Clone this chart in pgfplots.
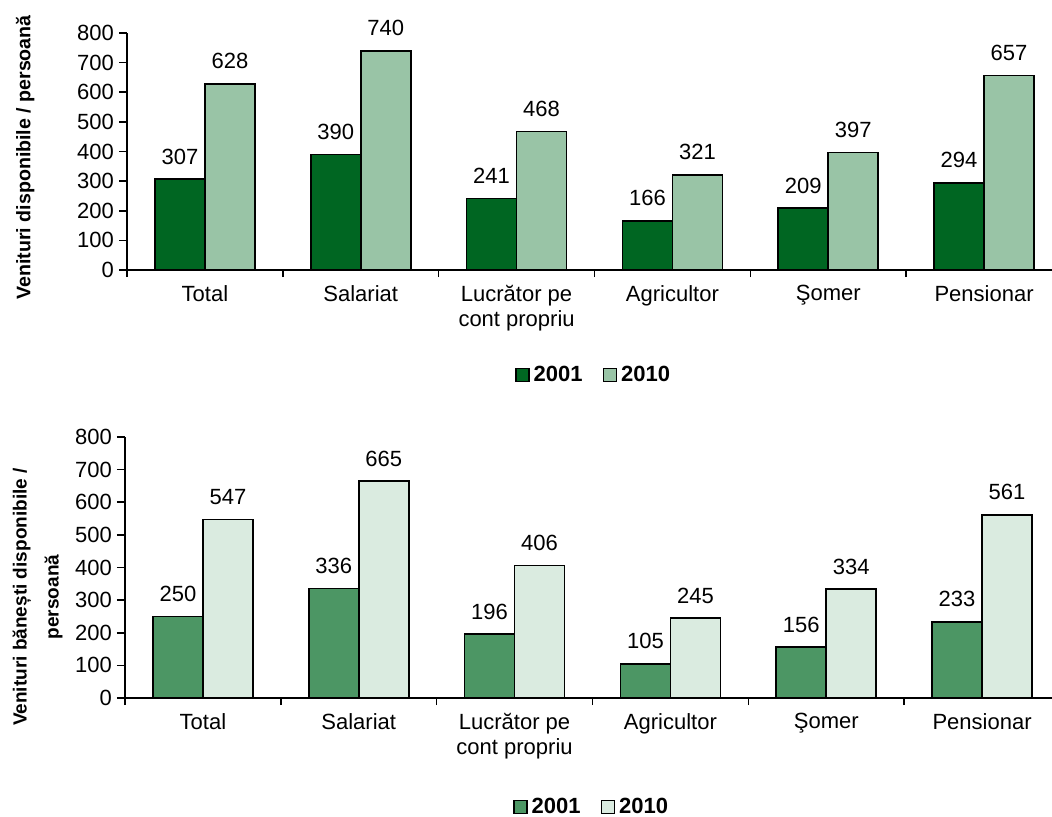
\documentclass[border=0pt]{standalone}
\usepackage{pgfplots}
\pgfplotsset{compat=1.18}
\usepackage{fontspec}
\setmainfont{Liberation Sans}

\definecolor{darkg}{RGB}{0,102,34}
\definecolor{lightg}{RGB}{153,196,166}
\definecolor{midg}{RGB}{76,150,100}
\definecolor{paleg}{RGB}{218,235,224}

\pgfplotsset{
  venit/.style={
    /pgf/number format/assume math mode=true,
    scale only axis,
    width=467.5pt,
    ybar=0pt, bar width=25pt,
    xmin=0.5, xmax=6.5, ymin=0, ymax=800,
    axis x line*=bottom, axis y line*=left,
    axis line style={line width=0.8pt},
    ytick={0,100,...,800},
    xtick={1,...,6},
    xticklabels={Total, Salariat, {Lucrător pe\\cont propriu}, Agricultor, Şomer, Pensionar},
    minor xtick={0.5,1.5,...,6.5},
    major x tick style={draw=none},
    tick align=outside,
    major tick length=4pt, minor tick length=3.5pt,
    tick style={line width=0.8pt, black},
    ticklabel style={font=\fontsize{11}{12.5}\selectfont},
    xticklabel style={align=center},
    yticklabel style={xshift=1pt},
    nodes near coords,
    every node near coord/.append style={font=\fontsize{11}{13}\selectfont, inner sep=0pt, yshift=7pt},
    legend columns=2,
    legend style={draw=none, anchor=center, font=\bfseries\fontsize{11}{13}\selectfont,
      /tikz/every even column/.append style={column sep=8pt}},
    legend image code/.code={\draw[#1] (0pt,-3.25pt) rectangle (6.5pt,3.25pt);},
  },
}

\begin{document}
\begin{tikzpicture}
\path[use as bounding box] (0,0) rectangle (526pt,408pt);

% top panel: all disposable income
\begin{axis}[venit,
  at={(63.5pt,273pt)}, anchor=south west,
  height=118.5pt,
  ylabel={\bfseries\fontsize{9.8}{12}\selectfont Venituri disponibile / persoană},
  ylabel style={at={(axis description cs:-0.109,0.475)}, anchor=center},
  legend style={at={(0.5,-0.443)}},
]
\addplot[fill=darkg, draw=black, line width=0.8pt] coordinates {
  (1,307) (2,390) (3,241) (4,166) (5,209) (6,294)};
\addplot[fill=lightg, draw=black, line width=0.8pt] coordinates {
  (1,628) (2,740) (3,468) (4,321) (5,397) (6,657)};
\legend{2001,2010}
\end{axis}

% bottom panel: money income
\begin{axis}[venit,
  at={(62.5pt,59pt)}, anchor=south west,
  height=130.5pt,
  ylabel={\bfseries\fontsize{9.5}{16}\selectfont
    \begin{tabular}{@{}c@{}}Venituri bănești disponibile /\\persoană\end{tabular}},
  ylabel style={at={(axis description cs:-0.095,0.387)}, anchor=center},
  legend style={at={(0.5,-0.418)}},
]
\addplot[fill=midg, draw=black, line width=0.8pt] coordinates {
  (1,250) (2,336) (3,196) (4,105) (5,156) (6,233)};
\addplot[fill=paleg, draw=black, line width=0.8pt] coordinates {
  (1,547) (2,665) (3,406) (4,245) (5,334) (6,561)};
\legend{2001,2010}
\end{axis}
\end{tikzpicture}
\end{document}
